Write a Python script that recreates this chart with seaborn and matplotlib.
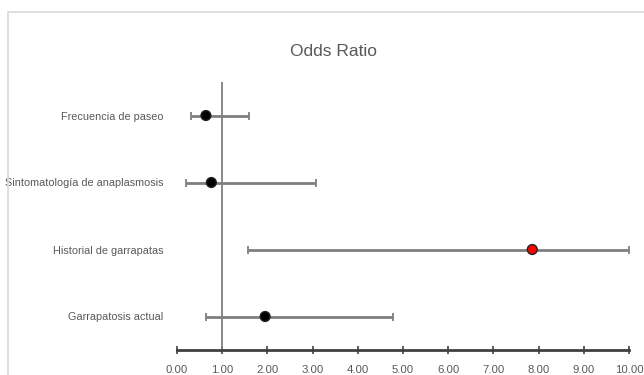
import numpy as np
import pandas as pd
import seaborn as sns
import matplotlib.pyplot as plt
from matplotlib.patches import Rectangle

# Datos
variables = ["Garrapatosis actual", "Historial de garrapatas",
             "Sintomatología de anaplasmosis", "Frecuencia de paseo"]
odds_ratio = [1.95, 7.86, 0.76, 0.64]
ic_inf = [0.64, 1.58, 0.19, 0.30]
ic_sup = [4.77, 10.00, 3.08, 1.60]
destacado = ["no", "si", "no", "no"]
ticks_x = [0, 1, 2, 3, 4, 5, 6, 7, 8, 9, 10]

df = pd.DataFrame({"variable": variables, "OR": odds_ratio,
                   "inf": ic_inf, "sup": ic_sup, "destacado": destacado})
df["pos"] = np.arange(len(df)) + 0.5

sns.set_style("white")
plt.rcParams["font.family"] = ["Liberation Sans", "DejaVu Sans"]
gris = "#595959"

fig = plt.figure(figsize=(6.44, 3.75), dpi=100)
ax = fig.add_axes([177 / 644, 1 - 350 / 375, 452 / 644, 268 / 375])

# marco del área del gráfico
fig.patches.append(Rectangle((8 / 644, -0.1), 1.0, 1 - 12 / 375 + 0.1,
                             transform=fig.transFigure, fill=False,
                             edgecolor="#d9d9d9", linewidth=1.2))

# línea de referencia OR = 1
ax.axvline(1, color="#7f7f7f", linewidth=1.3, zorder=1)

# intervalos de confianza
ax.errorbar(df["OR"], df["pos"],
            xerr=[df["OR"] - df["inf"], df["sup"] - df["OR"]],
            fmt="none", ecolor="#7f7f7f", elinewidth=2, capsize=3,
            capthick=1.3, zorder=2)

sns.scatterplot(data=df, x="OR", y="pos", hue="destacado",
                palette={"no": "black", "si": "#ff0000"},
                s=50, edgecolor="#222222", linewidth=1, legend=False,
                zorder=3, ax=ax)

ax.set_xlim(0, 10)
ax.set_ylim(0, 4)
ax.set_xticks(ticks_x)
ax.set_xticklabels([f"{t:.2f}" for t in ticks_x], color=gris, fontsize=8.2)
ax.set_yticks(df["pos"])
ax.set_yticklabels(df["variable"], color=gris, fontsize=7.8)
ax.set_xlabel("")
ax.set_ylabel("")

for s in ["top", "right", "left"]:
    ax.spines[s].set_visible(False)
ax.spines["bottom"].set_color("#404040")
ax.spines["bottom"].set_linewidth(2)
ax.tick_params(axis="x", direction="inout", length=6, width=1.2,
               color="#404040", pad=8, bottom=True)
ax.tick_params(axis="y", length=0, pad=10)

fig.text(334 / 644, 1 - 52 / 375, "Odds Ratio", ha="center", va="center",
         fontsize=12.5, color=gris)

plt.savefig("out.png", dpi=100)
plt.close()
